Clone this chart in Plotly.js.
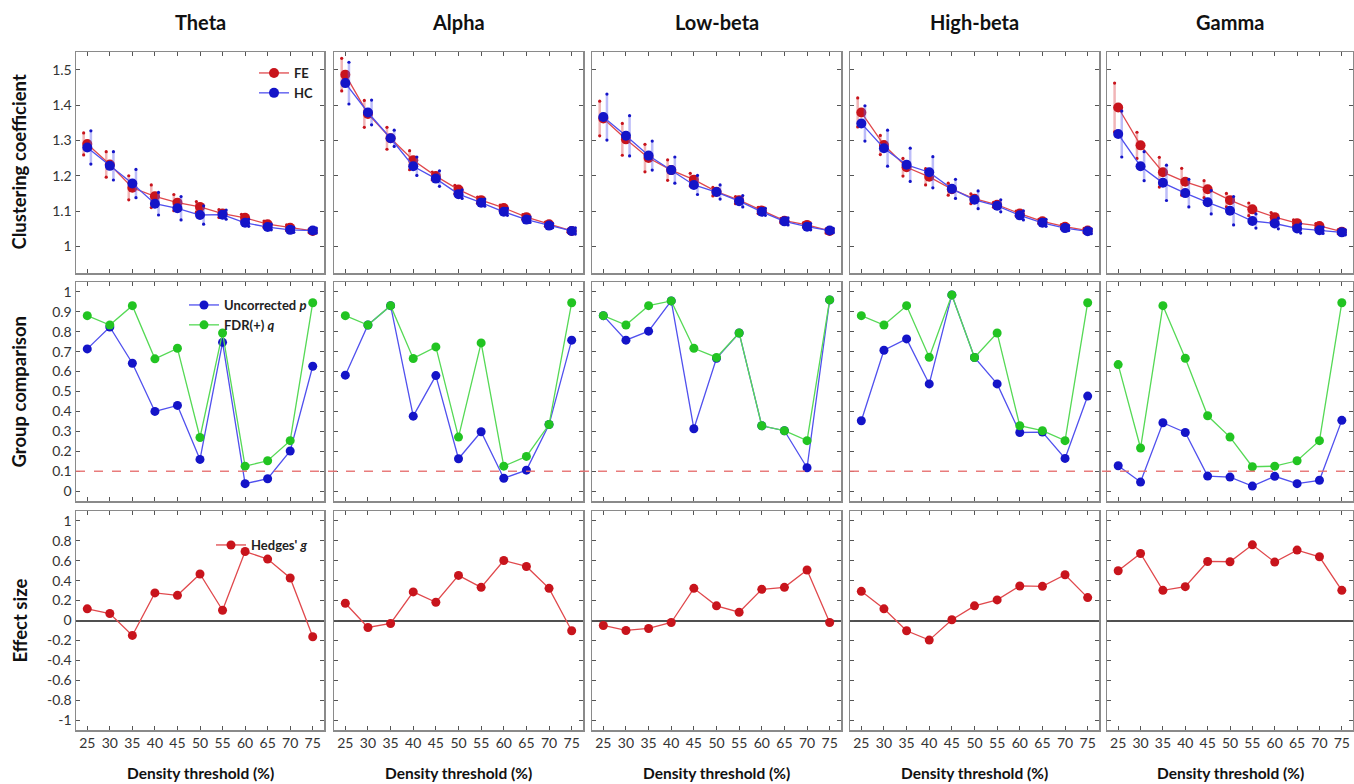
<!DOCTYPE html>
<html><head><meta charset="utf-8">
<script src="https://cdn.plot.ly/plotly-3.0.1.min.js"></script>
<style>html,body{margin:0;padding:0;background:#fff}#chart{width:1354px;height:784px}</style>
</head><body><div id="chart"></div>
<script>
// ---------------- DATA ----------------
const thresholds = [25, 30, 35, 40, 45, 50, 55, 60, 65, 70, 75];
const bands = ['Theta', 'Alpha', 'Low-beta', 'High-beta', 'Gamma'];

// Clustering coefficient: FE (first-episode) means and error half-widths
const feTheta    = [1.290, 1.232, 1.166, 1.142, 1.124, 1.112, 1.093, 1.081, 1.063, 1.053, 1.044];
const feThetaErr = [0.031, 0.036, 0.034, 0.032, 0.023, 0.015, 0.011, 0.010, 0.009, 0.008, 0.005];
const hcTheta    = [1.280, 1.228, 1.178, 1.121, 1.108, 1.089, 1.090, 1.067, 1.055, 1.047, 1.045];
const hcThetaErr = [0.047, 0.040, 0.040, 0.032, 0.033, 0.026, 0.013, 0.010, 0.008, 0.007, 0.007];

const feAlpha    = [1.486, 1.375, 1.306, 1.244, 1.199, 1.161, 1.131, 1.109, 1.083, 1.063, 1.044];
const feAlphaErr = [0.046, 0.038, 0.031, 0.027, 0.011, 0.012, 0.009, 0.008, 0.007, 0.006, 0.004];
const hcAlpha    = [1.462, 1.379, 1.306, 1.227, 1.192, 1.148, 1.124, 1.098, 1.076, 1.059, 1.044];
const hcAlphaErr = [0.059, 0.035, 0.023, 0.026, 0.022, 0.012, 0.010, 0.010, 0.008, 0.006, 0.009];

const feLowBeta    = [1.362, 1.303, 1.250, 1.216, 1.189, 1.155, 1.131, 1.102, 1.073, 1.061, 1.044];
const feLowBetaErr = [0.049, 0.045, 0.039, 0.029, 0.018, 0.012, 0.010, 0.009, 0.006, 0.006, 0.006];
const hcLowBeta    = [1.366, 1.313, 1.257, 1.216, 1.174, 1.154, 1.128, 1.098, 1.071, 1.056, 1.045];
const hcLowBetaErr = [0.065, 0.057, 0.041, 0.037, 0.027, 0.020, 0.016, 0.010, 0.010, 0.009, 0.006];

const feHighBeta    = [1.379, 1.287, 1.224, 1.197, 1.162, 1.135, 1.118, 1.093, 1.071, 1.056, 1.045];
const feHighBetaErr = [0.041, 0.027, 0.025, 0.023, 0.017, 0.014, 0.007, 0.007, 0.006, 0.006, 0.006];
const hcHighBeta    = [1.348, 1.278, 1.231, 1.210, 1.163, 1.132, 1.115, 1.088, 1.067, 1.052, 1.043];
const hcHighBetaErr = [0.050, 0.051, 0.047, 0.044, 0.027, 0.025, 0.017, 0.013, 0.010, 0.007, 0.007];

const feGamma    = [1.393, 1.286, 1.210, 1.183, 1.162, 1.131, 1.105, 1.083, 1.066, 1.058, 1.042];
const feGammaErr = [0.069, 0.037, 0.042, 0.038, 0.024, 0.019, 0.018, 0.013, 0.009, 0.007, 0.006];
const hcGamma    = [1.318, 1.227, 1.180, 1.151, 1.125, 1.101, 1.072, 1.065, 1.051, 1.046, 1.040];
const hcGammaErr = [0.065, 0.041, 0.050, 0.039, 0.033, 0.040, 0.020, 0.015, 0.013, 0.009, 0.007];

// Group comparison: uncorrected p and FDR(+) q
const pTheta    = [0.714, 0.824, 0.642, 0.400, 0.430, 0.159, 0.747, 0.037, 0.062, 0.201, 0.627];
const qTheta    = [0.881, 0.834, 0.931, 0.664, 0.717, 0.269, 0.794, 0.125, 0.152, 0.253, 0.946];
const pAlpha    = [0.582, 0.834, 0.931, 0.376, 0.580, 0.162, 0.298, 0.064, 0.105, 0.334, 0.758];
const qAlpha    = [0.881, 0.834, 0.931, 0.666, 0.724, 0.271, 0.744, 0.125, 0.174, 0.334, 0.946];
const pLowBeta  = [0.881, 0.758, 0.803, 0.955, 0.313, 0.667, 0.794, 0.328, 0.303, 0.117, 0.960];
const qLowBeta  = [0.881, 0.834, 0.931, 0.955, 0.717, 0.671, 0.794, 0.328, 0.303, 0.253, 0.960];
const pHighBeta = [0.353, 0.707, 0.764, 0.538, 0.985, 0.671, 0.538, 0.294, 0.296, 0.164, 0.477];
const qHighBeta = [0.881, 0.834, 0.931, 0.672, 0.985, 0.671, 0.794, 0.328, 0.303, 0.253, 0.946];
const pGamma    = [0.127, 0.045, 0.343, 0.294, 0.075, 0.070, 0.025, 0.074, 0.037, 0.054, 0.355];
const qGamma    = [0.635, 0.216, 0.931, 0.667, 0.378, 0.271, 0.122, 0.125, 0.152, 0.253, 0.946];
const alphaLevel = 0.1;

// Effect size: Hedges' g
const gTheta    = [0.117, 0.070, -0.150, 0.277, 0.253, 0.467, 0.103, 0.693, 0.617, 0.427, -0.163];
const gAlpha    = [0.173, -0.070, -0.030, 0.287, 0.183, 0.453, 0.333, 0.603, 0.543, 0.323, -0.103];
const gLowBeta  = [-0.050, -0.100, -0.080, -0.020, 0.323, 0.147, 0.083, 0.313, 0.333, 0.507, -0.020];
const gHighBeta = [0.293, 0.117, -0.103, -0.197, 0.007, 0.147, 0.207, 0.347, 0.343, 0.460, 0.230];
const gGamma    = [0.500, 0.673, 0.303, 0.340, 0.593, 0.590, 0.760, 0.587, 0.707, 0.640, 0.303];

const effectTickVals = [1, 0.8, 0.6, 0.4, 0.2, 0, -0.2, -0.4, -0.6, -0.8, -1];
const effectTickText = ['1', '0.8', '0.6', '0.4', '0.2', '0', '-0.2', '-0.4', '-0.6', '-0.8', '-1'];

const feMeans = [feTheta, feAlpha, feLowBeta, feHighBeta, feGamma];
const feErrs  = [feThetaErr, feAlphaErr, feLowBetaErr, feHighBetaErr, feGammaErr];
const hcMeans = [hcTheta, hcAlpha, hcLowBeta, hcHighBeta, hcGamma];
const hcErrs  = [hcThetaErr, hcAlphaErr, hcLowBetaErr, hcHighBetaErr, hcGammaErr];
const pVals   = [pTheta, pAlpha, pLowBeta, pHighBeta, pGamma];
const qVals   = [qTheta, qAlpha, qLowBeta, qHighBeta, qGamma];
const gVals   = [gTheta, gAlpha, gLowBeta, gHighBeta, gGamma];

// ---------------- STYLE / LAYOUT ----------------
const W = 1354, H = 784;
const FONT = 'Lato, "Open Sans", sans-serif';
const colPx = [[76, 324], [334, 583], [592, 841], [850, 1099], [1107, 1353]];
const rowPx = [[52, 273], [282, 501], [511, 730]];
const RED = '#c8141c', RED_LINE = '#e0484c', RED_ERR = 'rgba(225,90,95,0.45)';
const BLUE = '#1414c8', BLUE_LINE = '#5050ee', BLUE_ERR = 'rgba(90,90,240,0.4)';
const GREEN = '#22c422', GREEN_LINE = '#55d955';
const whiskerOffset = 0.8;

const traces = [];
const layout = {
  width: W, height: H,
  margin: {l: 0, r: 0, t: 0, b: 0},
  paper_bgcolor: '#fff', plot_bgcolor: '#fff',
  font: {family: FONT, size: 14, color: '#333'},
  showlegend: true,
  annotations: [], shapes: []
};

function axisName(r, c) { return (r * 5 + c + 1); }

for (let r = 0; r < 3; r++) {
  for (let c = 0; c < 5; c++) {
    const k = axisName(r, c);
    const xa = k === 1 ? 'xaxis' : 'xaxis' + k;
    const ya = k === 1 ? 'yaxis' : 'yaxis' + k;
    layout[xa] = {
      domain: [colPx[c][0] / W, colPx[c][1] / W],
      anchor: 'y' + (k === 1 ? '' : k),
      range: [22.5, 77.5],
      tickvals: thresholds,
      ticktext: thresholds.map(String),
      showticklabels: r === 2,
      ticks: 'inside', ticklen: 4, tickwidth: 1, tickcolor: '#555',
      showline: true, linecolor: '#8a8a8a', linewidth: 1.5, mirror: 'ticks',
      showgrid: false, zeroline: false, fixedrange: true,
      tickfont: {family: FONT, size: 14, color: '#333'}
    };
    const yBase = {
      domain: [1 - rowPx[r][1] / H, 1 - rowPx[r][0] / H],
      anchor: 'x' + (k === 1 ? '' : k),
      showticklabels: c === 0,
      ticks: 'inside', ticklen: 4, tickwidth: 1, tickcolor: '#555',
      showline: true, linecolor: '#8a8a8a', linewidth: 1.5, mirror: 'ticks',
      showgrid: false, fixedrange: true,
      tickfont: {family: FONT, size: 14, color: '#333'}
    };
    if (r === 0) Object.assign(yBase, {range: [0.925, 1.55], tick0: 1, dtick: 0.1, zeroline: false});
    if (r === 1) Object.assign(yBase, {range: [-0.05, 1.05], tick0: 0, dtick: 0.1, zeroline: false});
    if (r === 2) Object.assign(yBase, {range: [-1.1, 1.1], tickvals: effectTickVals, ticktext: effectTickText,
                                       zeroline: true, zerolinecolor: '#505050', zerolinewidth: 2});
    layout[ya] = yBase;
  }
}

// Row 1: clustering coefficient with error whiskers
for (let c = 0; c < 5; c++) {
  const k = axisName(0, c);
  const xr = 'x' + (k === 1 ? '' : k), yr = 'y' + (k === 1 ? '' : k);
  const groups = [
    {name: '<b>FE</b>', m: feMeans[c], e: feErrs[c], off: -whiskerOffset, dot: RED, line: RED_LINE, err: RED_ERR},
    {name: '<b>HC</b>', m: hcMeans[c], e: hcErrs[c], off: whiskerOffset, dot: BLUE, line: BLUE_LINE, err: BLUE_ERR}
  ];
  groups.forEach(g => {
    const xs = thresholds.map(t => t + g.off);
    traces.push({type: 'scatter', mode: 'markers', x: xs, y: g.m, xaxis: xr, yaxis: yr,
      marker: {size: 1, color: 'rgba(0,0,0,0)'}, showlegend: false, hoverinfo: 'skip',
      error_y: {type: 'data', array: g.e, visible: true, color: g.err, thickness: 2.5, width: 0}});
    traces.push({type: 'scatter', mode: 'markers', xaxis: xr, yaxis: yr, showlegend: false, hoverinfo: 'skip',
      x: xs.concat(xs), y: g.m.map((v, i) => v + g.e[i]).concat(g.m.map((v, i) => v - g.e[i])),
      marker: {symbol: 'circle', size: 3.2, color: g.dot}});
    traces.push({type: 'scatter', mode: 'lines+markers', name: g.name, x: thresholds, y: g.m,
      xaxis: xr, yaxis: yr, legend: 'legend', showlegend: c === 0,
      line: {color: g.line, width: 1.3}, marker: {size: 10, color: g.dot}});
  });
}

// Row 2: group comparison
for (let c = 0; c < 5; c++) {
  const k = axisName(1, c);
  const xr = 'x' + k, yr = 'y' + k;
  traces.push({type: 'scatter', mode: 'lines+markers', name: '<b>Uncorrected <i>p</i></b>', x: thresholds, y: pVals[c],
    xaxis: xr, yaxis: yr, legend: 'legend2', showlegend: c === 0,
    line: {color: BLUE_LINE, width: 1.3}, marker: {size: 9, color: BLUE}});
  traces.push({type: 'scatter', mode: 'lines+markers', name: '<b>FDR(+) <i>q</i></b>', x: thresholds, y: qVals[c],
    xaxis: xr, yaxis: yr, legend: 'legend2', showlegend: c === 0,
    line: {color: GREEN_LINE, width: 1.3}, marker: {size: 9, color: GREEN}});
}

// Row 3: effect size
for (let c = 0; c < 5; c++) {
  const k = axisName(2, c);
  traces.push({type: 'scatter', mode: 'lines+markers', name: "<b>Hedges' <i>g</i></b>", x: thresholds, y: gVals[c],
    xaxis: 'x' + k, yaxis: 'y' + k, legend: 'legend3', showlegend: c === 0,
    line: {color: RED_LINE, width: 1.3}, marker: {size: 9, color: RED}});
}

// Significance threshold line across row 2
layout.shapes.push({type: 'line', xref: 'paper', yref: 'y6', x0: 76 / W, x1: 1353 / W, y0: alphaLevel, y1: alphaLevel,
  line: {color: 'rgba(230,110,110,0.9)', width: 1.5, dash: 'dash'}, layer: 'above'});

// Legends
const legBase = {bgcolor: 'rgba(0,0,0,0)', borderwidth: 0, xanchor: 'left', yanchor: 'top',
  font: {family: FONT, size: 13, color: '#222'}, tracegroupgap: 0, itemclick: false, itemdoubleclick: false};
layout.legend  = Object.assign({}, legBase, {x: 254 / W, y: 1 - 58 / H});
layout.legend2 = Object.assign({}, legBase, {x: 184 / W, y: 1 - 290 / H});
layout.legend3 = Object.assign({}, legBase, {x: 211 / W, y: 1 - 530 / H});

// Column titles
bands.forEach((b, c) => {
  layout.annotations.push({text: '<b>' + b + '</b>', xref: 'paper', yref: 'paper',
    x: (colPx[c][0] + colPx[c][1]) / 2 / W, y: 1 - 22 / H, xanchor: 'center', yanchor: 'middle',
    showarrow: false, font: {family: FONT, size: 20, color: '#111'}});
  layout.annotations.push({text: '<b>Density threshold (%)</b>', xref: 'paper', yref: 'paper',
    x: (colPx[c][0] + colPx[c][1]) / 2 / W, y: 1 - 773 / H, xanchor: 'center', yanchor: 'middle',
    showarrow: false, font: {family: FONT, size: 15.5, color: '#111'}});
});
// Row titles
const rowTitles = ['Clustering coefficient', 'Group comparison', 'Effect size'];
rowTitles.forEach((t, r) => {
  layout.annotations.push({text: '<b>' + t + '</b>', xref: 'paper', yref: 'paper',
    x: 19 / W, y: 1 - (rowPx[r][0] + rowPx[r][1]) / 2 / H, xanchor: 'center', yanchor: 'middle',
    textangle: -90, showarrow: false, font: {family: FONT, size: 18.5, color: '#111'}});
});

Plotly.newPlot('chart', traces, layout, {displayModeBar: false, staticPlot: true});
</script></body></html>
